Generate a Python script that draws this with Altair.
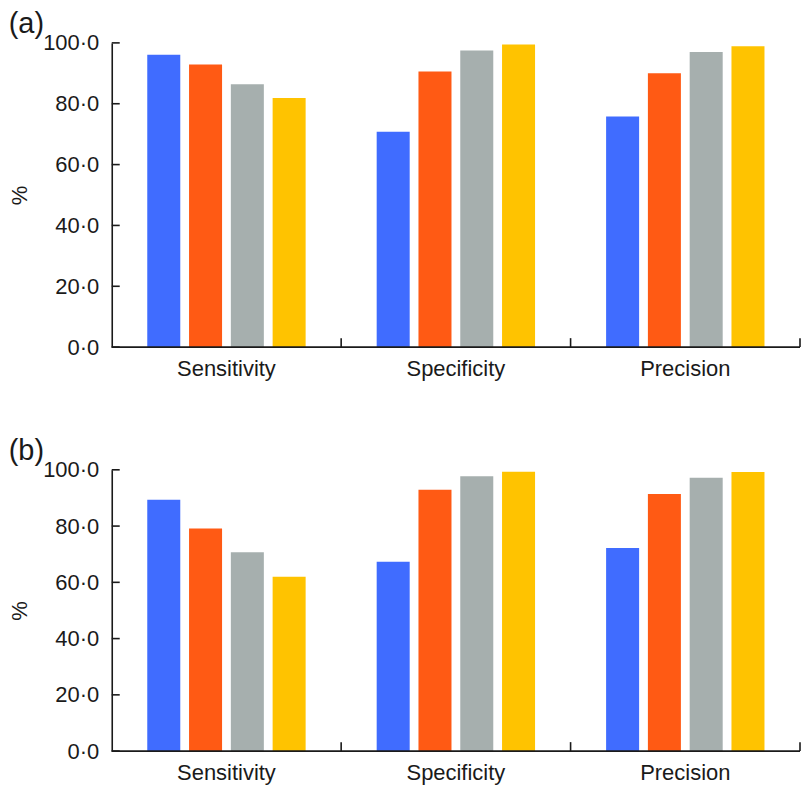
import altair as alt
import pandas as pd

metrics = ["Sensitivity", "Specificity", "Precision"]
series = ["S1", "S2", "S3", "S4"]
colors = ["#406CFF", "#FF5A14", "#A6AFAE", "#FFC300"]

# panel (a)
a_s1 = [96.1, 70.8, 75.8]
a_s2 = [92.9, 90.6, 90.0]
a_s3 = [86.4, 97.5, 97.0]
a_s4 = [81.9, 99.5, 98.9]

# panel (b)
b_s1 = [89.4, 67.3, 72.2]
b_s2 = [79.1, 92.9, 91.4]
b_s3 = [70.7, 97.7, 97.2]
b_s4 = [62.0, 99.3, 99.2]

y_ticks = [0, 20, 40, 60, 80, 100]

W = 690
FONT = "Liberation Sans"
INK = "#1a1a1a"
LW = 1.6


def frame(cols):
    rows = []
    for s, vals in zip(series, cols):
        for m, v in zip(metrics, vals):
            rows.append({"metric": m, "series": s, "value": v})
    return pd.DataFrame(rows)


def panel(label, cols, H):
    df = frame(cols)
    # the group bands run past the right edge of the plot, as in the cropped original
    xscale = alt.Scale(domain=metrics, paddingInner=0,
                       paddingOuter={"expr": "-0.0625"}, align=0)
    yscale = alt.Scale(domain=[0, 100], nice=False)
    bars = alt.Chart(df).mark_bar().encode(
        x=alt.X("metric:N", sort=metrics, scale=xscale,
                axis=alt.Axis(title=None, domain=False, ticks=False, labelAngle=0,
                              labelFontSize=22, labelColor=INK, labelFont=FONT,
                              labelPadding=11)),
        xOffset=alt.XOffset("series:N", sort=series,
                            scale=alt.Scale(paddingInner=0.21, paddingOuter=0.85)),
        y=alt.Y("value:Q", scale=yscale,
                axis=alt.Axis(values=y_ticks,
                              labelExpr="replace(format(datum.value, '.1f'), '.', '·')",
                              grid=False, ticks=False, domainColor=INK, domainWidth=LW,
                              labelFontSize=22, labelColor=INK, labelFont=FONT,
                              labelPadding=13, title="%", titleFontSize=22,
                              titleFontWeight="normal", titleFont=FONT, titleColor=INK,
                              titlePadding=11)),
        color=alt.Color("series:N", sort=series,
                        scale=alt.Scale(domain=series, range=colors), legend=None),
    )
    yt = alt.Chart(pd.DataFrame({"value": y_ticks})).mark_rule(
        color=INK, strokeWidth=LW).encode(
        y=alt.Y("value:Q", scale=yscale),
        x=alt.value(0), x2=alt.value(8))
    xt = alt.Chart(pd.DataFrame({"metric": metrics[:2]})).mark_rule(
        color=INK, strokeWidth=LW).encode(
        x=alt.X("metric:N", sort=metrics, scale=xscale, bandPosition=1),
        y=alt.value(H - 9), y2=alt.value(H))
    endt = alt.Chart(pd.DataFrame({"metric": metrics[-1:]})).mark_rule(
        color=INK, strokeWidth=LW).encode(
        x=alt.value(W), y=alt.value(H - 9), y2=alt.value(H))
    base = alt.Chart(pd.DataFrame({"metric": metrics[:1]})).mark_rule(
        color=INK, strokeWidth=LW).encode(
        x=alt.value(0), x2=alt.value(W), y=alt.value(H))
    return alt.layer(bars, yt, xt, endt, base).properties(
        width=W, height=H,
        title=alt.TitleParams(label, anchor="start", frame="bounds", fontSize=29,
                              fontWeight="normal", font=FONT, color=INK, offset=-7),
    )


chart = alt.vconcat(
    panel("(a)", [a_s1, a_s2, a_s3, a_s4], 305),
    panel("(b)", [b_s1, b_s2, b_s3, b_s4], 282),
    spacing=56,
).properties(padding=0).configure_view(stroke="transparent")

chart.save("out.html", embed_options={"renderer": "svg", "actions": False})
